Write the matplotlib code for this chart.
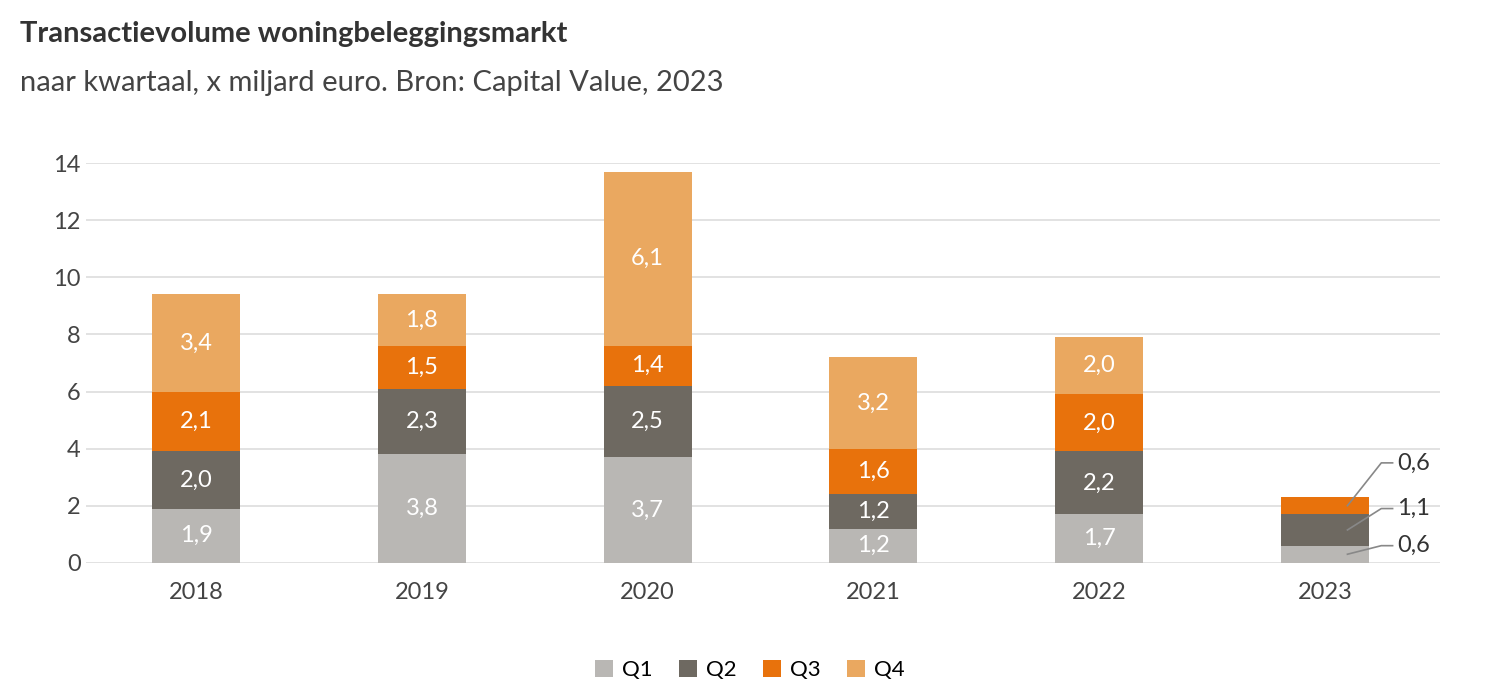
import matplotlib
matplotlib.use("Agg")
import matplotlib.pyplot as plt
import numpy as np

years = ["2018", "2019", "2020", "2021", "2022", "2023"]
q1 = [1.9, 3.8, 3.7, 1.2, 1.7, 0.6]
q2 = [2.0, 2.3, 2.5, 1.2, 2.2, 1.1]
q3 = [2.1, 1.5, 1.4, 1.6, 2.0, 0.6]
q4 = [3.4, 1.8, 6.1, 3.2, 2.0, 0.0]
series = [("Q1", q1, "#b9b7b4"), ("Q2", q2, "#6e6961"), ("Q3", q3, "#e8720c"), ("Q4", q4, "#eaa860")]

plt.rcParams['font.family'] = ['Lato', 'DejaVu Sans']
fig = plt.figure(figsize=(15, 7), dpi=100)
ax = fig.add_axes([0.057, 0.196, 0.903, 0.571])
x = np.arange(len(years))
bottom = np.zeros(len(years))
fmt = lambda v: f"{v:.1f}".replace(".", ",")
for name, vals, col in series:
    vals = np.array(vals)
    ax.bar(x, vals, 0.39, bottom=bottom, color=col, label=name, zorder=3)
    for i, v in enumerate(vals):
        if v > 0 and i < 5:
            ax.text(x[i], bottom[i] + v / 2, fmt(v), ha="center", va="center",
                    color="white", fontsize=17, zorder=4)
    bottom += vals

# 2023 external labels with leader lines
i = 5
mids = [q1[i] / 2, q1[i] + q2[i] / 2, q1[i] + q2[i] + q3[i] / 2]
labely = [0.6, 1.9, 3.5]
lab = [q1[i], q2[i], q3[i]]
for m, ly, v in zip(mids, labely, lab):
    ax.plot([x[i] + 0.1, x[i] + 0.25, x[i] + 0.3], [m, ly, ly], color="#888888", lw=1.2, zorder=5)
    ax.text(x[i] + 0.32, ly, fmt(v), ha="left", va="center", fontsize=17, color="#333333")

ax.set_xlim(-0.49, 5.51)
ax.set_ylim(0, 14)
ax.set_yticks(range(0, 15, 2))
ax.set_xticks(x)
ax.set_xticklabels(years)
ax.tick_params(length=0, labelsize=17, colors="#444444")
ax.tick_params(axis="x", pad=14)
ax.grid(axis="y", color="#dddddd", lw=1.2, zorder=0)
for s in ax.spines.values():
    s.set_visible(False)

fig.text(0.013, 0.94, "Transactievolume woningbeleggingsmarkt", fontsize=21, fontweight="bold", color="#333333")
fig.text(0.013, 0.87, "naar kwartaal, x miljard euro. Bron: Capital Value, 2023", fontsize=21, color="#444444")
fig.legend(loc="lower center", bbox_to_anchor=(0.5, 0.0), ncol=4, frameon=False, fontsize=16,
           handlelength=0.8, handleheight=0.8, columnspacing=1.2, handletextpad=0.4)
fig.savefig("out.png", dpi=100)
